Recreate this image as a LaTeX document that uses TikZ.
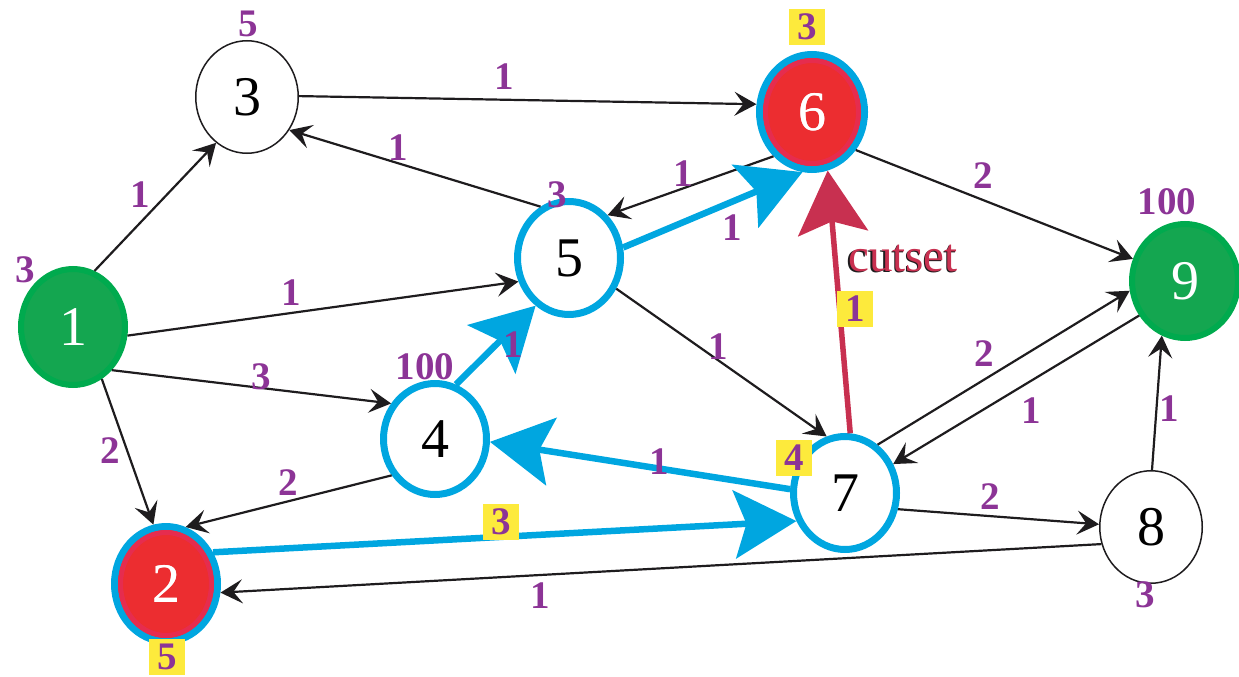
\documentclass[tikz,border=0pt]{standalone}
\usepackage{fontspec}
\setmainfont{Liberation Serif}
\usetikzlibrary{arrows.meta,shapes.geometric}
\definecolor{cgreen}{RGB}{20,166,80}
\definecolor{cgreenrim}{RGB}{0,170,78}
\definecolor{cred}{RGB}{236,45,48}
\definecolor{credrim}{RGB}{230,44,78}
\definecolor{cblue}{RGB}{0,166,224}
\definecolor{cpurple}{RGB}{140,52,150}
\definecolor{ccrim}{RGB}{200,48,80}
\definecolor{cyellow}{RGB}{253,234,60}
\definecolor{cink}{RGB}{30,28,30}
\begin{document}
\begin{tikzpicture}[x=1pt,y=-1pt,
  vtx/.style={ellipse, inner sep=0pt, font=\rmfamily\fontsize{56}{60}\selectfont},
  plainv/.style={vtx, draw=cink, line width=1.5pt, fill=white, text=black},
  bluev/.style={vtx, draw=cblue, line width=7pt, fill=white, text=black},
  redv/.style={vtx, draw=cblue, line width=7pt, fill=cred, text=white},
  greenv/.style={vtx, draw=cgreenrim, line width=6pt, fill=cgreen, text=white},
  rim/.style={draw=credrim, line width=5pt},
  edge/.style={draw=cink, line width=2.2pt, -{Stealth[length=22pt,width=24pt,inset=9pt]}},
  blueedge/.style={draw=cblue, line width=6.5pt, -{Stealth[length=62pt,width=68pt,inset=12pt]}},
  cutedge/.style={draw=ccrim, line width=5.5pt, -{Stealth[length=63pt,width=70pt,inset=12pt]}},
  lab/.style={text=cpurple, font=\rmfamily\bfseries\fontsize{39}{42}\selectfont, inner sep=0pt},
  hl/.style={lab, fill=cyellow, minimum width=36pt, minimum height=36pt},
  cuttext/.style={font=\rmfamily\fontsize{47}{50}\selectfont, inner sep=0pt}
]
\useasboundingbox (0,0) rectangle (1239,677);

% nodes
\node[greenv, minimum width=104pt, minimum height=116pt] (n1) at (73,327) {1};
\node[redv, minimum width=103pt, minimum height=115pt] (n2) at (166,584) {2};
\draw[rim] (n2.center) ellipse [x radius=45.5pt, y radius=51.5pt];
\node[plainv, minimum width=102.5pt, minimum height=112.5pt] (n3) at (247,97) {3};
\node[bluev, minimum width=103pt, minimum height=111pt] (n4) at (435,439) {4};
\node[bluev, minimum width=103pt, minimum height=113pt] (n5) at (569,258) {5};
\node[redv, minimum width=105pt, minimum height=115pt] (n6) at (812,112) {6};
\draw[rim] (n6.center) ellipse [x radius=46.5pt, y radius=51.5pt];
\node[bluev, minimum width=103pt, minimum height=113pt] (n7) at (845,493) {7};
\node[plainv, minimum width=102.5pt, minimum height=112.5pt] (n8) at (1151,527) {8};
\node[greenv, minimum width=106pt, minimum height=114pt] (n9) at (1185,281) {9};
\node[vtx, text=white] at (n2.center) {2};
\node[vtx, text=white] at (n6.center) {6};

% black edges
\draw[edge] (n1.69) -- (n3.236);
\draw[edge] (n3.1) -- (n6.172);
\draw[edge] (n5.119) -- (n3.-38);
\draw[edge] (n1.-9) -- (n5.205);
\draw[edge] (n1.-48) -- (n4.141);
\draw[edge] (n1.-61) -- (n2.102);
\draw[edge] (n4.220) -- (n2.71);
\draw[edge] (n6.229) -- (n5.48);
\draw[edge] (n6.-41) -- (n9.157);
\draw[edge] (n5.-33) -- (n7.108);
\draw[edge] (n7.56) -- (n9.190);
\draw[edge] (n9.217) -- (n7.31);
\draw[edge] (n8.89) -- (n9.247);
\draw[edge] (n7.-17) -- (n8.177);
\draw[edge] (n8.199) -- (n2.-9);

% blue edges
\draw[blueedge] (n4.69) -- (n5.235);
\draw[blueedge] (n5.11) -- (n6.261);
\draw[blueedge] (n7.176) -- (n4.-3);
\draw[blueedge] (n2.34) -- (n7.210);

% cutset edge
\draw[cutedge] (n7.85) -- (n6.-75);
\node[cuttext, text=cink] (cutshadow) at (901.5,259.5) {cutset};
\node[cuttext, text=ccrim] (cutlabel) at (903,258) {cutset};

% node labels
\node[lab] (l1) at (25,270) {3};
\node[lab] (l3) at (248,24) {5};
\node[hl] (l6) at (807,27) {3};
\node[lab] (l5) at (557,195) {3};
\node[lab] (l9) at (1167,202) {100};
\node[lab] (l4) at (425,367) {100};
\node[hl] (l2) at (167,657) {5};
\node[hl] (l7) at (794,458) {4};
\node[lab] (l8) at (1145,595) {3};

% edge labels
\node[lab] (e13) at (140,195) {1};
\node[lab] (e36) at (504,77) {1};
\node[lab] (e53) at (398,148) {1};
\node[lab] (e15) at (291,293) {1};
\node[lab] (e14) at (261,377) {3};
\node[lab] (e12) at (110,451) {2};
\node[lab] (e42) at (288,483) {2};
\node[lab] (e45) at (513,345) {1};
\node[lab] (e65) at (683,174) {1};
\node[lab] (e56) at (732,228) {1};
\node[lab] (e69) at (983,176) {2};
\node[lab] (e57) at (718,347) {1};
\node[hl] (e76) at (855,309) {1};
\node[lab] (e79) at (984,354) {2};
\node[lab] (e97) at (1031,411) {1};
\node[lab] (e89) at (1169,409) {1};
\node[lab] (e74) at (659,462) {1};
\node[hl] (e27) at (501,522) {3};
\node[lab] (e78) at (990,497) {2};
\node[lab] (e82) at (540,596) {1};
\end{tikzpicture}
\end{document}
